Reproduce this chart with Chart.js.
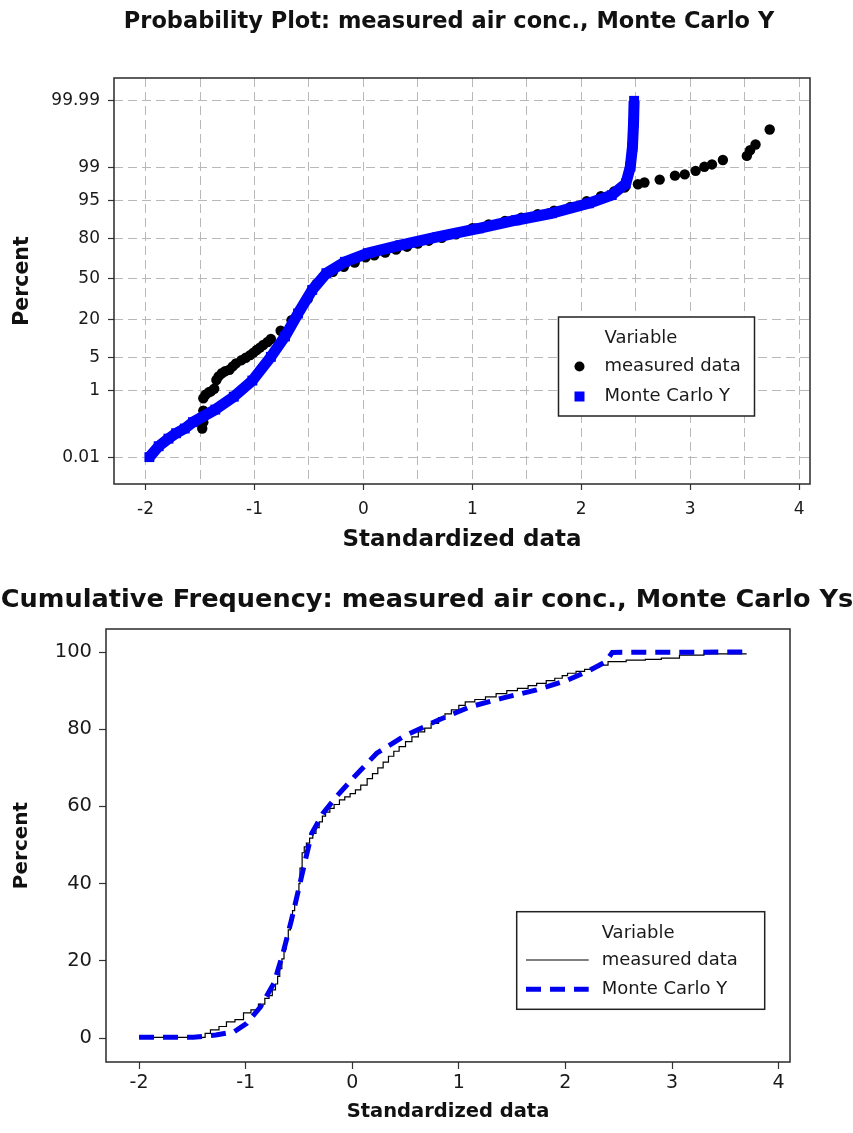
<!DOCTYPE html>
<html>
<head>
<meta charset="utf-8">
<script src="https://cdn.jsdelivr.net/npm/chart.js"></script>
<style>
  html, body { margin: 0; padding: 0; background: #fff; }
  #wrap { width: 853px; height: 1133px; }
  canvas { display: block; }
</style>
</head>
<body>
<div id="wrap">
  <canvas id="probChart" width="853" height="560"></canvas>
  <canvas id="cumChart" width="853" height="573"></canvas>
</div>
<script>
// ---- probability plot data (x = standardized data, y = percent) ----
var probMeasuredX = [-1.48, -1.47, -1.47, -1.47, -1.45, -1.42, -1.40, -1.37, -1.35, -1.33, -1.30, -1.27, -1.23, -1.20, -1.17,
  -1.12, -1.08, -1.04, -1.01, -0.98, -0.95, -0.92, -0.88,
  -0.85, -0.76, -0.66, -0.58, -0.51, -0.47, -0.43, -0.37, -0.28, -0.18, -0.08, 0.02, 0.10, 0.20, 0.30, 0.40, 0.50, 0.60,
  0.72, 0.85, 1.00, 1.15, 1.30, 1.45, 1.60, 1.75, 1.90, 2.05, 2.18, 2.30, 2.40,
  2.52, 2.58, 2.72, 2.86, 2.95, 3.05, 3.13, 3.20, 3.30, 3.52, 3.55, 3.60, 3.73];
var probMeasuredPct = [0.09, 0.14, 0.3, 0.64, 0.78, 0.9, 0.95, 1.1, 1.75, 2.1, 2.45, 2.7, 2.9, 3.4, 3.9,
  4.5, 5.0, 5.6, 6.2, 6.9, 7.6, 8.4, 9.4,
  10.5, 14, 19.5, 26, 34, 41, 46, 51.5, 56, 60, 63.5, 67.5, 69, 71, 73, 75, 77, 78.8,
  80.5, 82.5, 85.5, 87.3, 88.7, 90, 91.2, 92.3, 93.4, 94.8, 95.8, 96.6, 97.2,
  97.6, 97.8, 98.1, 98.45, 98.55, 98.8, 99.04, 99.16, 99.35, 99.49, 99.64, 99.75, 99.91];

var probMonteX = [-1.965, -1.88, -1.79, -1.72, -1.64, -1.565, -1.36, -1.19, -1.02, -0.85, -0.72, -0.60, -0.47, -0.34, -0.17,
  0.04, 0.34, 0.68, 1.06, 1.40, 1.73, 2.07, 2.28, 2.41, 2.45, 2.47, 2.48, 2.485];
var probMontePct = [0.01, 0.024, 0.043, 0.064, 0.09, 0.14, 0.32, 0.7, 1.7, 5.2, 11.5, 23.6, 41, 54.8, 64,
  70.5, 76, 81, 85.5, 89, 91.5, 94.3, 96, 97.7, 99.04, 99.71, 99.944, 99.99];

var probYTicks = [0.01, 1, 5, 20, 50, 80, 95, 99, 99.99];
var probXTicks = [-2, -1.5, -1, -0.5, 0, 0.5, 1, 1.5, 2, 2.5, 3, 3.5, 4];

// ---- cumulative frequency data ----
var cumMeasuredX = [-2.0, -1.38, -1.33, -1.25, -1.18, -1.10, -1.02, -0.95, -0.88, -0.82,
  -0.78, -0.75, -0.72, -0.70, -0.68, -0.66, -0.64, -0.62, -0.60, -0.58, -0.56, -0.54, -0.52, -0.50, -0.49,
  -0.47, -0.45, -0.43, -0.40, -0.37, -0.34, -0.31, -0.28, -0.25, -0.21, -0.17, -0.12, -0.07, -0.02,
  0.03, 0.08, 0.14, 0.19, 0.24, 0.29, 0.34, 0.39, 0.44, 0.50, 0.56, 0.62, 0.68, 0.74, 0.81, 0.87, 0.93,
  1.00, 1.06, 1.15, 1.25, 1.35, 1.45, 1.55, 1.65, 1.73, 1.82, 1.90, 1.97, 2.02, 2.10, 2.18, 2.25, 2.32,
  2.40, 2.57, 2.75, 2.90, 3.07, 3.30, 3.695];
var cumMeasuredPct = [0.2, 1.2, 2.1, 3.0, 4.2, 4.8, 6.5, 7.3, 8.8, 10.3,
  11, 12.5, 14, 16, 18, 20.5, 23, 25.5, 28, 30.5, 33, 35.5, 38, 40, 44,
  48, 49.5, 50.5, 51.8, 53, 54.5, 56, 57.5, 58.5, 59.5, 60.5, 61.7, 62.5, 63.3,
  64.3, 65.5, 67.2, 68.5, 70, 71.5, 73, 74.3, 75.5, 76.8, 78, 79.3, 80.3, 81.5, 83, 84, 85,
  86.2, 87.1, 87.7, 88.4, 89.2, 90, 90.6, 91.3, 91.9, 92.6, 93.2, 93.9, 94.5, 95, 95.5, 96, 96.6,
  97.5, 97.9, 98.1, 98.4, 99.2, 99.5, 99.7];

var cumMonteX = [-2.0, -1.49, -1.28, -1.11, -0.99, -0.86, -0.735, -0.65, -0.57, -0.505, -0.44, -0.38, -0.275, -0.15,
  0.02, 0.23, 0.48, 0.81, 1.105, 1.40, 1.73, 2.02, 2.23, 2.38, 2.44, 3.695];
var cumMontePct = [0.2, 0.2, 0.8, 1.6, 3.8, 8.1, 14.2, 21.9, 30.6, 38.3, 46.1, 53, 58.2, 62.5,
  67.7, 73.8, 78.1, 82.4, 85.8, 88, 90.2, 92.7, 95.3, 97.5, 99.9, 100];

var cumYTicks = [0, 20, 40, 60, 80, 100];
var cumXTicks = [-2, -1, 0, 1, 2, 3, 4];

var seriesNames = ['measured data', 'Monte Carlo Y'];

function pts(xs, ys) {
  return xs.map(function (x, i) { return { x: x, y: ys[i] }; });
}

// inverse standard normal CDF (Acklam)
function probit(p) {
  var a = [-3.969683028665376e+01, 2.209460984245205e+02, -2.759285104469687e+02, 1.383577518672690e+02, -3.066479806614716e+01, 2.506628277459239e+00];
  var b = [-5.447609879822406e+01, 1.615858368580409e+02, -1.556989798598866e+02, 6.680131188771972e+01, -1.328068155288572e+01];
  var c = [-7.784894002430293e-03, -3.223964580411365e-01, -2.400758277161838e+00, -2.549732539343734e+00, 4.374664141464968e+00, 2.938163982698783e+00];
  var d = [7.784695709041462e-03, 3.224671290700398e-01, 2.445134137142996e+00, 3.754408661907416e+00];
  var plow = 0.02425, q, r;
  if (p < plow) {
    q = Math.sqrt(-2 * Math.log(p));
    return (((((c[0] * q + c[1]) * q + c[2]) * q + c[3]) * q + c[4]) * q + c[5]) / ((((d[0] * q + d[1]) * q + d[2]) * q + d[3]) * q + 1);
  }
  if (p <= 1 - plow) {
    q = p - 0.5; r = q * q;
    return (((((a[0] * r + a[1]) * r + a[2]) * r + a[3]) * r + a[4]) * r + a[5]) * q / (((((b[0] * r + b[1]) * r + b[2]) * r + b[3]) * r + b[4]) * r + 1);
  }
  q = Math.sqrt(-2 * Math.log(1 - p));
  return -(((((c[0] * q + c[1]) * q + c[2]) * q + c[3]) * q + c[4]) * q + c[5]) / ((((d[0] * q + d[1]) * q + d[2]) * q + d[3]) * q + 1);
}

// normal probability axis: percent values placed by their normal quantile
var LinearScale = Chart.LinearScale || Chart.registry.getScale('linear');
class ProbabilityScale extends LinearScale {
  getPixelForValue(value) {
    if (value === null || value === undefined || isNaN(value)) return NaN;
    var z0 = probit(this.min / 100), z1 = probit(this.max / 100);
    return this.getPixelForDecimal((probit(value / 100) - z0) / (z1 - z0));
  }
}
ProbabilityScale.id = 'probability';
ProbabilityScale.defaults = {};
Chart.register(ProbabilityScale);

Chart.defaults.font.family = "'DejaVu Sans', sans-serif";
Chart.defaults.color = '#1a1a1a';
Chart.defaults.animation = false;

var frame = {
  id: 'frame',
  afterDraw: function (chart) {
    var a = chart.chartArea, ctx = chart.ctx;
    ctx.save();
    ctx.strokeStyle = '#2a2a2a';
    ctx.lineWidth = 1.5;
    ctx.strokeRect(a.left, a.top, a.right - a.left, a.bottom - a.top);
    ctx.restore();
  }
};

// chart title placed at a fixed centre (the plot frame is not centred on the page)
var headTitle = {
  id: 'headTitle',
  afterDraw: function (chart, args, o) {
    var ctx = chart.ctx;
    ctx.save();
    ctx.font = o.font;
    ctx.fillStyle = '#111';
    ctx.textAlign = 'center';
    ctx.textBaseline = 'middle';
    ctx.fillText(o.text, o.x, o.y);
    ctx.restore();
  }
};

var boxLegend = {
  id: 'boxLegend',
  afterDraw: function (chart, args, o) {
    var a = chart.chartArea, ctx = chart.ctx;
    var bx = a.left + o.box[0], by = a.top + o.box[1], bw = o.box[2], bh = o.box[3];
    ctx.save();
    ctx.fillStyle = '#fff';
    ctx.fillRect(bx, by, bw, bh);
    ctx.strokeStyle = '#222';
    ctx.lineWidth = 1.5;
    ctx.strokeRect(bx, by, bw, bh);
    ctx.font = o.font;
    ctx.fillStyle = '#1a1a1a';
    ctx.textBaseline = 'middle';
    ctx.textAlign = 'left';
    ctx.fillText(o.title, bx + o.textX, by + o.rows[0]);
    chart.data.datasets.forEach(function (ds, i) {
      var y = by + o.rows[i + 1];
      ctx.fillStyle = '#1a1a1a';
      ctx.fillText(ds.label, bx + o.textX, y);
      if (o.marker === 'point') {
        var mx = bx + o.markX;
        ctx.fillStyle = ds.pointBackgroundColor;
        if (ds.pointStyle === 'rect') {
          ctx.fillRect(mx - 5, y - 5, 10, 10);
        } else {
          ctx.beginPath();
          ctx.arc(mx, y, 5, 0, Math.PI * 2);
          ctx.fill();
        }
      } else {
        ctx.strokeStyle = ds.borderColor;
        ctx.lineWidth = ds.borderWidth;
        ctx.setLineDash(ds.borderDash || []);
        ctx.beginPath();
        ctx.moveTo(bx + o.lineX[0], y);
        ctx.lineTo(bx + o.lineX[1], y);
        ctx.stroke();
        ctx.setLineDash([]);
      }
    });
    ctx.restore();
  }
};

// ---------------- Probability plot ----------------
new Chart(document.getElementById('probChart'), {
  type: 'scatter',
  data: {
    datasets: [{
      label: seriesNames[0],
      data: pts(probMeasuredX, probMeasuredPct),
      pointStyle: 'circle',
      pointRadius: 5.2,
      pointBackgroundColor: '#000',
      pointBorderWidth: 0,
      order: 1
    }, {
      label: seriesNames[1],
      data: pts(probMonteX, probMontePct),
      showLine: true,
      borderColor: '#0000ff',
      borderWidth: 11,
      borderJoinStyle: 'round',
      pointStyle: 'rect',
      pointRadius: 7,
      pointBackgroundColor: '#0000ff',
      pointBorderWidth: 0,
      order: 0
    }]
  },
  options: {
    responsive: false,
    maintainAspectRatio: false,
    layout: { padding: { left: 0, right: 43, top: 78, bottom: 0 } },
    plugins: {
      legend: { display: false },
      tooltip: { enabled: false },
      title: { display: false },
      headTitle: {
        text: 'Probability Plot: measured air conc., Monte Carlo Y',
        font: "bold 22.5px 'DejaVu Sans', sans-serif",
        x: 449, y: 22
      },
      boxLegend: {
        box: [444.5, 239, 196, 99],
        title: 'Variable',
        font: "18px 'DejaVu Sans', sans-serif",
        textX: 46, markX: 21,
        rows: [21, 49.5, 79.5],
        marker: 'point'
      }
    },
    scales: {
      x: {
        type: 'linear',
        min: -2.29, max: 4.10,
        afterBuildTicks: function (s) { s.ticks = probXTicks.map(function (v) { return { value: v }; }); },
        afterFit: function (s) { s.height = 76; },
        ticks: {
          autoSkip: false, maxRotation: 0, padding: 9,
          font: { size: 17 },
          callback: function (v) { return Number.isInteger(v) ? String(v) : ''; }
        },
        grid: {
          color: '#b8b8b8', lineWidth: 1, tickLength: 6, tickWidth: 1.2,
          tickColor: function (c) { return c.tick && Number.isInteger(c.tick.value) ? '#333' : 'rgba(0,0,0,0)'; }
        },
        border: { display: false, dash: [9, 5] },
        title: {
          display: true, text: 'Standardized data',
          font: { size: 23, weight: 'bold' }, color: '#111',
          padding: { top: 0, bottom: 6 }
        }
      },
      y: {
        type: 'probability',
        min: 0.000935, max: 99.99864,
        bounds: 'data',
        afterBuildTicks: function (s) { s.ticks = probYTicks.map(function (v) { return { value: v }; }); },
        afterFit: function (s) { s.width = 114; },
        ticks: {
          padding: 8, font: { size: 17 },
          callback: function (v, i) { return String(probYTicks[i]); }
        },
        grid: { color: '#b8b8b8', lineWidth: 1, tickLength: 6, tickWidth: 1.2, tickColor: '#333' },
        border: { display: false, dash: [9, 5] },
        title: {
          display: true, text: 'Percent',
          font: { size: 20.5, weight: 'bold' }, color: '#111',
          padding: { top: 10, bottom: 0 }
        }
      }
    }
  },
  plugins: [frame, headTitle, boxLegend]
});

// ---------------- Cumulative frequency ----------------
new Chart(document.getElementById('cumChart'), {
  type: 'scatter',
  data: {
    datasets: [{
      label: seriesNames[0],
      data: pts(cumMeasuredX, cumMeasuredPct),
      showLine: true,
      stepped: 'before',
      borderColor: '#000',
      borderWidth: 1.2,
      pointRadius: 0,
      order: 1
    }, {
      label: seriesNames[1],
      data: pts(cumMonteX, cumMontePct),
      showLine: true,
      borderColor: '#0000ee',
      borderWidth: 5,
      borderDash: [15, 9],
      pointRadius: 0,
      order: 0
    }]
  },
  options: {
    responsive: false,
    maintainAspectRatio: false,
    layout: { padding: { left: 0, right: 63, top: 69, bottom: 0 } },
    plugins: {
      legend: { display: false },
      tooltip: { enabled: false },
      title: { display: false },
      headTitle: {
        text: 'Cumulative Frequency: measured air conc., Monte Carlo Ys',
        font: "bold 25.6px 'DejaVu Sans', sans-serif",
        x: 427, y: 40
      },
      boxLegend: {
        box: [410.7, 282.7, 248, 97.6],
        title: 'Variable',
        font: "18px 'DejaVu Sans', sans-serif",
        textX: 85,
        rows: [21.6, 48.3, 77.6],
        marker: 'line',
        lineX: [9.3, 72]
      }
    },
    scales: {
      x: {
        type: 'linear',
        min: -2.31, max: 4.107,
        afterBuildTicks: function (s) { s.ticks = cumXTicks.map(function (v) { return { value: v }; }); },
        afterFit: function (s) { s.height = 71; },
        ticks: { autoSkip: false, maxRotation: 0, padding: 3, font: { size: 19 } },
        grid: { drawOnChartArea: false, tickLength: 7, tickWidth: 1.2, tickColor: '#333' },
        border: { display: false },
        title: {
          display: true, text: 'Standardized data',
          font: { size: 19.5, weight: 'bold' }, color: '#111',
          padding: { top: 0, bottom: 9 }
        }
      },
      y: {
        type: 'linear',
        min: -6.2, max: 105.96,
        afterBuildTicks: function (s) { s.ticks = cumYTicks.map(function (v) { return { value: v }; }); },
        afterFit: function (s) { s.width = 106; },
        ticks: { padding: 7, font: { size: 19.5 } },
        grid: { drawOnChartArea: false, tickLength: 7, tickWidth: 1.2, tickColor: '#333' },
        border: { display: false },
        title: {
          display: true, text: 'Percent',
          font: { size: 20, weight: 'bold' }, color: '#111',
          padding: { top: 10, bottom: 0 }
        }
      }
    }
  },
  plugins: [frame, headTitle, boxLegend]
});
</script>
</body>
</html>
